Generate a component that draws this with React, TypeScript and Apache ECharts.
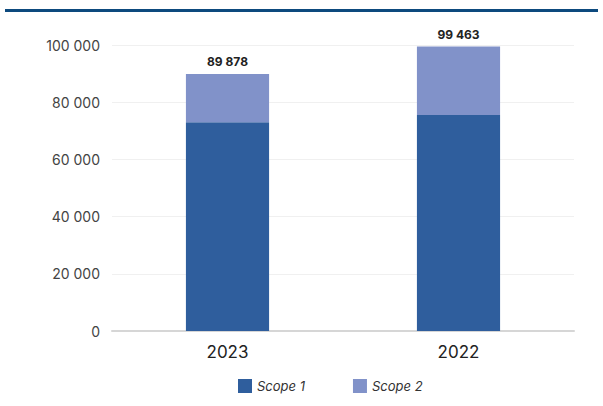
import React, { useEffect, useRef } from "react";
import * as echarts from "echarts";

const categories = ["2023", "2022"];
const scope1 = [73000, 75500];
const scope2 = [16878, 23963];
const totals = [89878, 99463];
const seriesNames = ["Scope 1", "Scope 2"];

const fmt = (v: number) => String(Math.round(v)).replace(/\B(?=(\d{3})+(?!\d))/g, " ");

export default function App() {
  const ref = useRef<HTMLDivElement>(null);
  useEffect(() => {
    if (!ref.current) return;
    const chart = echarts.init(ref.current, null, { renderer: "svg" });
    chart.setOption({
      animation: false,
      backgroundColor: "#ffffff",
      textStyle: { fontFamily: "Inter" },
      graphic: [
        {
          type: "rect",
          shape: { x: 5, y: 9, width: 593, height: 3 },
          style: { fill: "#0d4a7e" },
        },
      ],
      grid: { left: 112, right: 29, top: 45, bottom: 75 },
      legend: {
        bottom: 8,
        left: 233,
        itemWidth: 14,
        itemHeight: 14,
        itemGap: 48,
        icon: "rect",
        textStyle: { fontStyle: "italic", fontSize: 13, color: "#333", fontFamily: "Inter" },
        data: seriesNames,
      },
      xAxis: {
        type: "category",
        data: categories,
        axisLine: { lineStyle: { color: "#d6d6d6", width: 2 } },
        axisTick: { show: false },
        axisLabel: { fontSize: 17, color: "#222", margin: 12, fontFamily: "Inter" },
      },
      yAxis: {
        type: "value",
        min: 0,
        max: 100000,
        interval: 20000,
        axisLine: { show: false },
        axisTick: { show: false },
        splitLine: { lineStyle: { color: "#f0f0f0" } },
        axisLabel: { fontSize: 14, color: "#444", margin: 12, formatter: (v: number) => fmt(v), fontFamily: "Inter" },
      },
      series: [
        {
          name: seriesNames[0],
          type: "bar",
          stack: "total",
          data: scope1,
          barWidth: "36%",
          itemStyle: { color: "#2f5e9d" },
        },
        {
          name: seriesNames[1],
          type: "bar",
          stack: "total",
          data: scope2,
          barWidth: "36%",
          itemStyle: { color: "#8192c9" },
          label: {
            show: true,
            position: "top",
            distance: 6,
            fontSize: 12,
            fontWeight: "bold",
            color: "#222",
            fontFamily: "Inter",
            formatter: (p: any) => fmt(totals[p.dataIndex]),
          },
        },
      ],
    });
    return () => chart.dispose();
  }, []);
  return <div ref={ref} style={{ width: 603, height: 406, position: "absolute", left: 0, top: 0 }} />;
}
